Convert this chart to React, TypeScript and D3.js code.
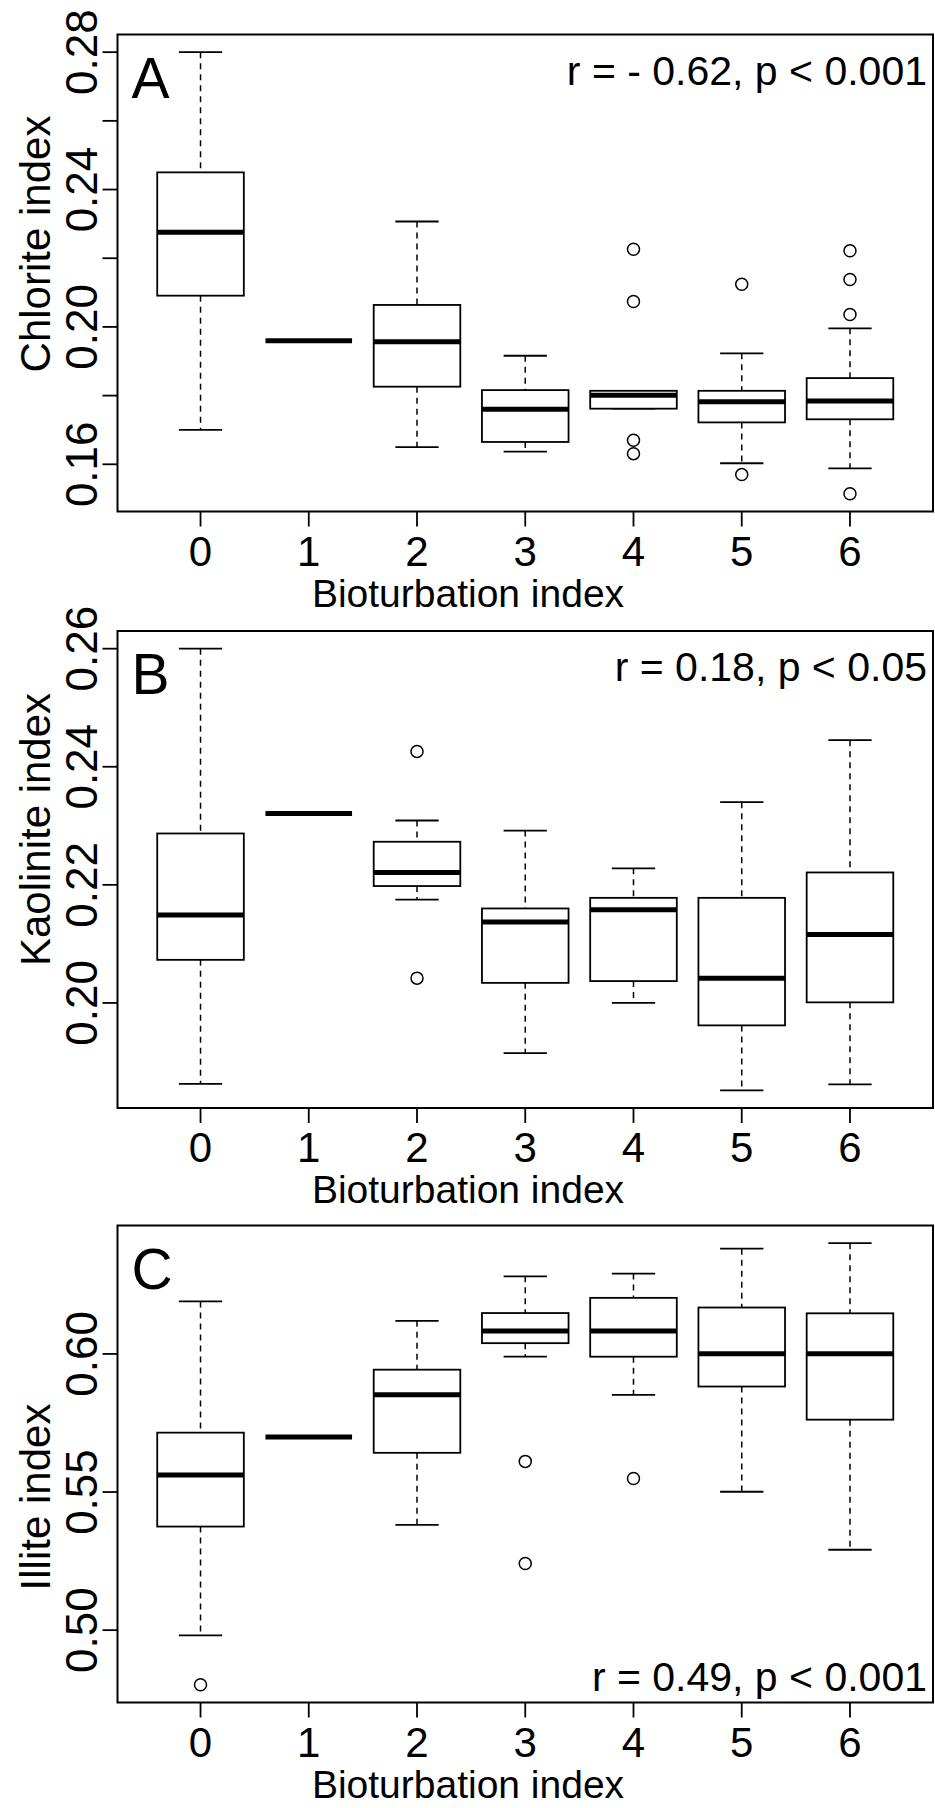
import React from "react";
import * as d3 from "d3";

const groups = ["0", "1", "2", "3", "4", "5", "6"];

// per group: [lower whisker, Q1, median, Q3, upper whisker]
const chloriteBoxes = [
  [0.170, 0.2091, 0.2276, 0.245, 0.280],
  [0.196, 0.196, 0.196, 0.196, 0.196],
  [0.165, 0.1826, 0.1957, 0.2064, 0.2307],
  [0.1637, 0.1665, 0.176, 0.1816, 0.1916],
  [0.1762, 0.1762, 0.1801, 0.1814, 0.1814],
  [0.1603, 0.1722, 0.1782, 0.1814, 0.1923],
  [0.1588, 0.1731, 0.1784, 0.1851, 0.1996],
];
const chloriteOutliers = [[], [], [], [], [0.2226, 0.2074, 0.167, 0.1631], [0.2124, 0.157], [0.2222, 0.2138, 0.2036, 0.1514]];
const chloriteTicks = [0.16, 0.18, 0.2, 0.22, 0.24, 0.26, 0.28];
const chloriteLabels = [0.16, 0.2, 0.24, 0.28];

const kaoliniteBoxes = [
  [0.1863, 0.2073, 0.2149, 0.2287, 0.26],
  [0.2321, 0.2321, 0.2321, 0.2321, 0.2321],
  [0.2175, 0.2198, 0.2221, 0.2273, 0.2309],
  [0.1915, 0.2034, 0.2137, 0.216, 0.2292],
  [0.2, 0.2037, 0.2158, 0.2178, 0.2228],
  [0.1852, 0.1962, 0.2042, 0.2178, 0.234],
  [0.1862, 0.2001, 0.2116, 0.2221, 0.2445],
];
const kaoliniteOutliers = [[], [], [0.2426, 0.2042], [], [], [], []];
const kaoliniteTicks = [0.2, 0.22, 0.24, 0.26];
const kaoliniteLabels = [0.2, 0.22, 0.24, 0.26];

const illiteBoxes = [
  [0.4981, 0.5375, 0.5562, 0.5715, 0.619],
  [0.5699, 0.5699, 0.5699, 0.5699, 0.5699],
  [0.5381, 0.5642, 0.5852, 0.5943, 0.612],
  [0.599, 0.6039, 0.6083, 0.6148, 0.6281],
  [0.5852, 0.599, 0.6083, 0.6203, 0.6291],
  [0.5501, 0.5882, 0.6001, 0.6168, 0.6381],
  [0.5291, 0.5762, 0.6001, 0.6147, 0.6401],
];
const illiteOutliers = [[0.4802], [], [], [0.5611, 0.5241], [0.5549], [], []];
const illiteTicks = [0.5, 0.55, 0.6];
const illiteLabels = [0.5, 0.55, 0.6];

const FONT = "'Liberation Sans', Arial, Helvetica, sans-serif";
const W = 935;
const H = 1808;
const left = 117.5;
const right = 933;
const plotH = 477;

const panels = [
  { letter: "A", title: "Chlorite index", stat: "r = - 0.62, p < 0.001", statAtTop: true,
    boxes: chloriteBoxes, outliers: chloriteOutliers, ticks: chloriteTicks, labels: chloriteLabels,
    top: 34.5, titleShift: -29 },
  { letter: "B", title: "Kaolinite index", stat: "r = 0.18, p < 0.05", statAtTop: true,
    boxes: kaoliniteBoxes, outliers: kaoliniteOutliers, ticks: kaoliniteTicks, labels: kaoliniteLabels,
    top: 631, titleShift: -40 },
  { letter: "C", title: "Illite index", stat: "r = 0.49, p < 0.001", statAtTop: false,
    boxes: illiteBoxes, outliers: illiteOutliers, ticks: illiteTicks, labels: illiteLabels,
    top: 1225.5, titleShift: 33 },
];

const x = d3.scalePoint<string>().domain(groups).range([left, right]).padding(0.767);
const fmt = d3.format(".2f");

function Panel({ p }: { p: (typeof panels)[number] }) {
  const bottom = p.top + plotH;
  const all = p.boxes.flat().concat(p.outliers.flat());
  const [lo, hi] = d3.extent(all) as [number, number];
  const pad = (hi - lo) * 0.04;
  const y = d3.scaleLinear().domain([lo - pad, hi + pad]).range([bottom, p.top]);
  const step = x.step();
  const bw = step * 0.8;
  const sw = step * 0.4;
  const cy = (p.top + bottom) / 2 + p.titleShift;

  return (
    <g>
      {groups.map((g, i) => {
        const [wl, q1, med, q3, wh] = p.boxes[i];
        const cx = x(g)!;
        if (wl === wh) {
          return (
            <line key={g} x1={cx - bw / 2} x2={cx + bw / 2} y1={y(med)} y2={y(med)} stroke="#000" strokeWidth={5} />
          );
        }
        return (
          <g key={g} stroke="#000" fill="none">
            <line x1={cx} x2={cx} y1={y(wh)} y2={y(q3)} strokeWidth={1.5} strokeDasharray="6,5" />
            <line x1={cx} x2={cx} y1={y(q1)} y2={y(wl)} strokeWidth={1.5} strokeDasharray="6,5" />
            <line x1={cx - sw / 2} x2={cx + sw / 2} y1={y(wh)} y2={y(wh)} strokeWidth={1.8} />
            <line x1={cx - sw / 2} x2={cx + sw / 2} y1={y(wl)} y2={y(wl)} strokeWidth={1.8} />
            <rect x={cx - bw / 2} width={bw} y={y(q3)} height={y(q1) - y(q3)} fill="#fff" strokeWidth={1.8} />
            <line x1={cx - bw / 2} x2={cx + bw / 2} y1={y(med)} y2={y(med)} strokeWidth={5} />
            {p.outliers[i].map((v, k) => (
              <circle key={k} cx={cx} cy={y(v)} r={6} strokeWidth={1.5} />
            ))}
          </g>
        );
      })}
      {groups.map((g, i) =>
        p.boxes[i][0] === p.boxes[i][4]
          ? p.outliers[i].map((v, k) => (
              <circle key={g + k} cx={x(g)!} cy={y(v)} r={6} fill="none" stroke="#000" strokeWidth={1.5} />
            ))
          : null
      )}
      <rect x={left} y={p.top} width={right - left} height={plotH} fill="none" stroke="#000" strokeWidth={2} />
      {/* y axis */}
      {p.ticks.map((t) => (
        <line key={t} x1={left - 15} x2={left} y1={y(t)} y2={y(t)} stroke="#000" strokeWidth={1.8} />
      ))}
      {p.labels.map((t) => (
        <text key={t} transform={`translate(97,${y(t)}) rotate(-90)`} textAnchor="middle" fontSize={44} fontFamily={FONT}>
          {fmt(t)}
        </text>
      ))}
      <text transform={`translate(50,${cy}) rotate(-90)`} textAnchor="middle" fontSize={42} fontFamily={FONT}>
        {p.title}
      </text>
      {/* x axis */}
      {groups.map((g) => (
        <g key={g}>
          <line x1={x(g)!} x2={x(g)!} y1={bottom} y2={bottom + 15} stroke="#000" strokeWidth={1.8} />
          <text x={x(g)!} y={bottom + 54} textAnchor="middle" fontSize={42} fontFamily={FONT}>
            {g}
          </text>
        </g>
      ))}
      <text x={468} y={bottom + 95} textAnchor="middle" fontSize={39} fontFamily={FONT}>
        Bioturbation index
      </text>
      <text x={left + 14} y={p.top + 63} fontSize={57} fontFamily={FONT}>
        {p.letter}
      </text>
      <text x={927} y={p.statAtTop ? p.top + 50 : bottom - 12} textAnchor="end" fontSize={41} fontFamily={FONT}>
        {p.stat}
      </text>
    </g>
  );
}

export default function App() {
  return (
    <div>
      <style>{`body{margin:0}`}</style>
      <svg width={W} height={H} style={{ display: "block", background: "#fff" }}>
        {panels.map((p) => (
          <Panel key={p.letter} p={p} />
        ))}
      </svg>
    </div>
  );
}
